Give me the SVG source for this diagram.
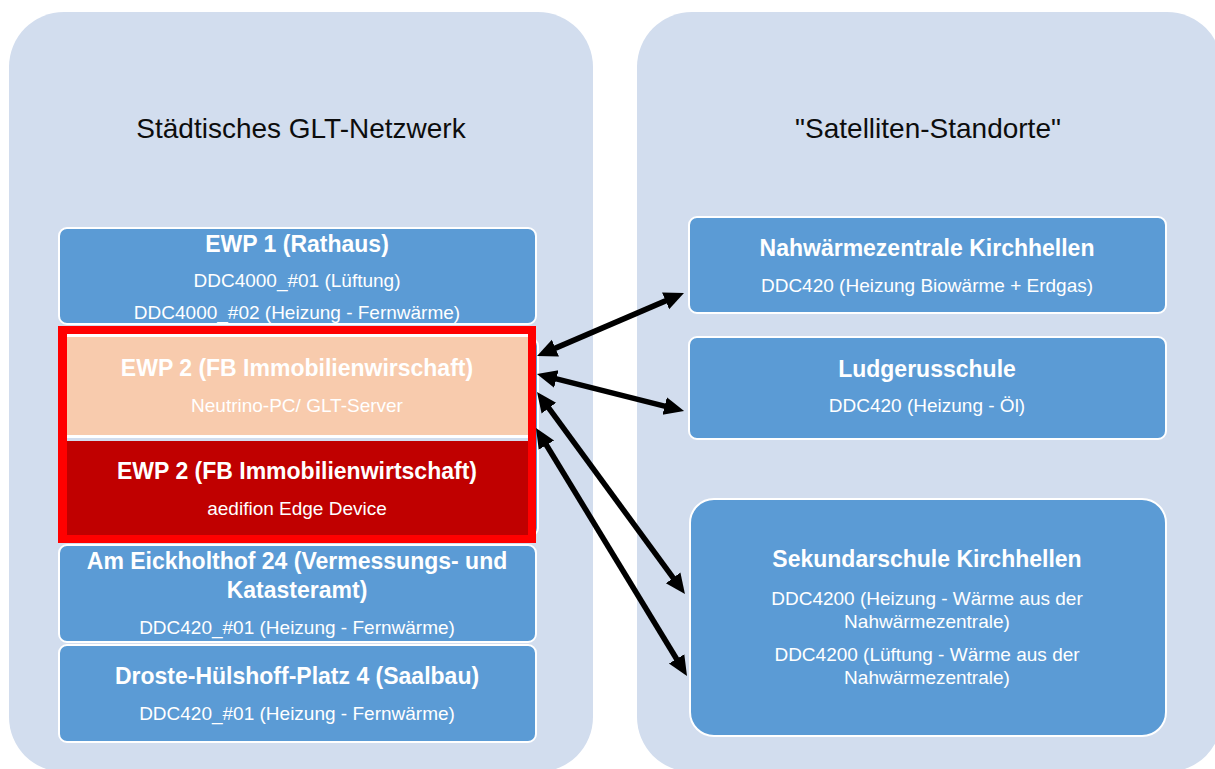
<svg xmlns="http://www.w3.org/2000/svg" width="1215" height="769" viewBox="0 0 1215 769">
  <defs>
    <marker id="head" viewBox="0 -12 24 24" refX="5" refY="0" markerWidth="24" markerHeight="24" markerUnits="userSpaceOnUse" orient="auto-start-reverse">
      <path d="M0,-9 L20,0 L0,9 z" fill="#000"/>
    </marker>
    <style>
      .zone { fill: #d2ddee; }
      .zone-title { font-family: "Liberation Sans", Arial, sans-serif; font-size: 28px; fill: #0d0d0d; text-anchor: middle; }
      .box { fill: #5b9bd5; stroke: #ffffff; stroke-width: 2; }
      .h { font-family: "Liberation Sans", Arial, sans-serif; font-size: 23px; font-weight: bold; fill: #ffffff; text-anchor: middle; }
      .t { font-family: "Liberation Sans", Arial, sans-serif; font-size: 19px; fill: #ffffff; text-anchor: middle; }
      .link { stroke: #000; stroke-width: 5.5; fill: none; marker-start: url(#head); marker-end: url(#head); }
    </style>
  </defs>

  <rect width="1215" height="769" fill="#ffffff"/>

  <!-- Zones -->
  <g id="zone-glt">
    <rect class="zone" x="9" y="12" width="584" height="760" rx="55"/>
    <text class="zone-title" x="301" y="138">Städtisches GLT-Netzwerk</text>
  </g>
  <g id="zone-satellites">
    <rect class="zone" x="637" y="12" width="585" height="760" rx="55"/>
    <text class="zone-title" x="928" y="138">"Satelliten-Standorte"</text>
  </g>

  <!-- Left column -->
  <g id="ewp1">
    <rect class="box" x="59" y="228" width="477" height="96" rx="8"/>
    <text class="h" x="297" y="252">EWP 1 (Rathaus)</text>
    <text class="t" x="297" y="287">DDC4000_#01 (Lüftung)</text>
    <text class="t" x="297" y="319">DDC4000_#02 (Heizung - Fernwärme)</text>
  </g>

  <g id="ewp2">
    <rect x="59" y="338" width="479" height="198" rx="8" fill="#5b9bd5" stroke="#ffffff" stroke-width="2"/>
    <rect x="58" y="326" width="478" height="217" fill="#ff0000"/>
    <rect x="67" y="334" width="461" height="102" fill="#f8cbad"/>
    <rect x="67" y="334" width="461" height="3" fill="#ffffff"/>
    <rect x="67" y="435" width="461" height="3" fill="#ffffff"/>
    <rect x="67" y="438" width="461" height="3" fill="#d2ddee"/>
    <rect x="67" y="441" width="461" height="94" fill="#c00000"/>
    <text class="h" x="297" y="376">EWP 2 (FB Immobilienwirschaft)</text>
    <text class="t" x="297" y="412">Neutrino-PC/ GLT-Server</text>
    <text class="h" x="297" y="479">EWP 2 (FB Immobilienwirtschaft)</text>
    <text class="t" x="297" y="515">aedifion Edge Device</text>
  </g>

  <g id="eickholthof">
    <rect class="box" x="59" y="545" width="477" height="97" rx="8"/>
    <text class="h" x="297" y="569">Am Eickholthof 24 (Vermessungs- und</text>
    <text class="h" x="297" y="598">Katasteramt)</text>
    <text class="t" x="297" y="634">DDC420_#01 (Heizung - Fernwärme)</text>
  </g>

  <g id="saalbau">
    <rect class="box" x="59" y="645" width="477" height="97" rx="8"/>
    <text class="h" x="297" y="684">Droste-Hülshoff-Platz 4 (Saalbau)</text>
    <text class="t" x="297" y="720">DDC420_#01 (Heizung - Fernwärme)</text>
  </g>

  <!-- Right column -->
  <g id="nahwaerme">
    <rect class="box" x="689" y="217" width="477" height="96" rx="8"/>
    <text class="h" x="927" y="256">Nahwärmezentrale Kirchhellen</text>
    <text class="t" x="927" y="292">DDC420 (Heizung Biowärme + Erdgas)</text>
  </g>

  <g id="ludgerus">
    <rect class="box" x="689" y="337" width="477" height="102" rx="8"/>
    <text class="h" x="927" y="377">Ludgerusschule</text>
    <text class="t" x="927" y="412">DDC420 (Heizung - Öl)</text>
  </g>

  <g id="sekundarschule">
    <rect class="box" x="690" y="499" width="476" height="237" rx="24"/>
    <text class="h" x="927" y="567">Sekundarschule Kirchhellen</text>
    <text class="t" x="927" y="605">DDC4200 (Heizung - Wärme aus der</text>
    <text class="t" x="927" y="628">Nahwärmezentrale)</text>
    <text class="t" x="927" y="661">DDC4200 (Lüftung - Wärme aus der</text>
    <text class="t" x="927" y="684">Nahwärmezentrale)</text>
  </g>

  <!-- Connectors: double-headed links from EWP 2 to the satellite sites -->
  <g id="connectors">
    <line class="link" x1="550.8" y1="350.1" x2="670.2" y2="298.9"/>
    <line class="link" x1="551.5" y1="377.7" x2="669.5" y2="407.3"/>
    <line class="link" x1="545.9" y1="404.1" x2="676.1" y2="581.9"/>
    <line class="link" x1="543.8" y1="440.8" x2="679.2" y2="663.2"/>
  </g>
</svg>
